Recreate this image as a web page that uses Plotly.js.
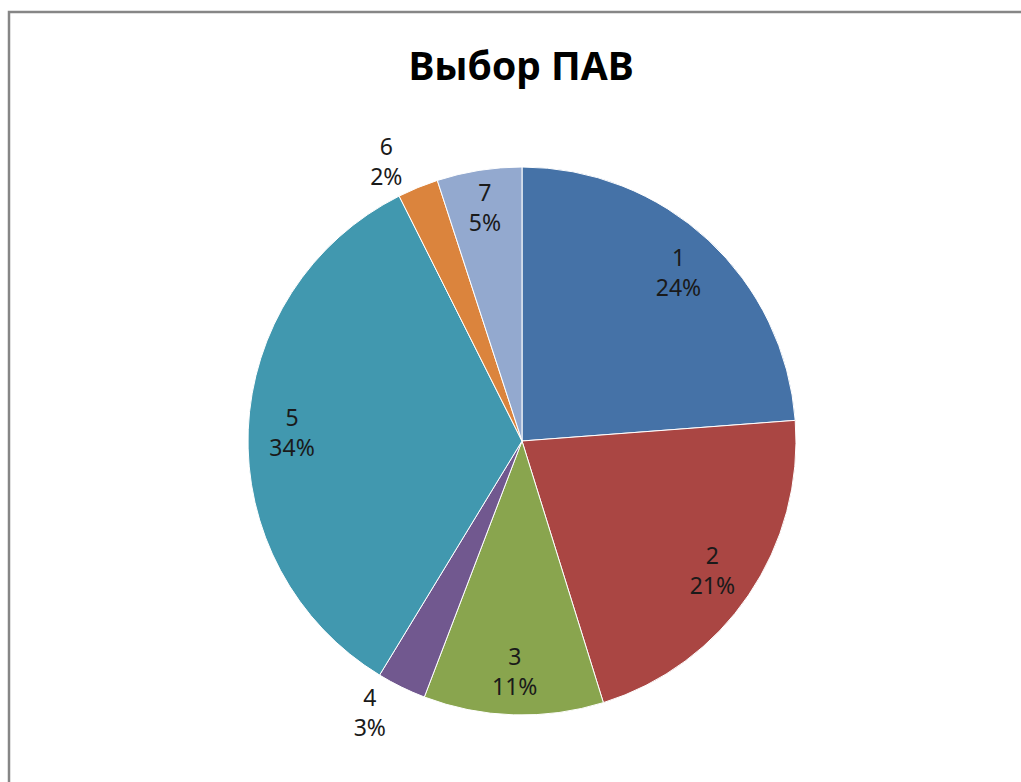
<!DOCTYPE html>
<html>
<head>
<meta charset="utf-8">
<script src="https://cdn.plot.ly/plotly-3.0.1.min.js"></script>
<style>html,body{margin:0;padding:0;background:#fff;}#chart{width:1021px;height:782px;}</style>
</head>
<body>
<div id="chart"></div>
<script>
const categories = ["1", "2", "3", "4", "5", "6", "7"];
const values = [23.8, 21.4, 10.6, 2.9, 33.9, 2.4, 5.0];
const colors = ["#4572A7", "#AA4643", "#89A54E", "#71588F", "#4198AF", "#DB843D", "#93A9CF"];
const positions = ["inside", "inside", "inside", "outside", "inside", "outside", "inside"];
const titleText = "Выбор ПАВ";

const W = 1021, H = 782;
const cx = 522, cy = 441, r = 274;
const domain = {x: [(cx - r) / W, (cx + r) / W], y: [(H - cy - r) / H, (H - cy + r) / H]};
const labelFont = {family: "Noto Sans, Open Sans, sans-serif", size: 23, color: "#1a1a1a"};

// the coloured pie itself
const pie = {
  type: "pie",
  labels: categories,
  values: values,
  sort: false,
  direction: "clockwise",
  rotation: 0,
  marker: {colors: colors, line: {color: "#ffffff", width: 1}},
  textinfo: "none",
  showlegend: false,
  hoverinfo: "skip",
  domain: domain
};

// transparent ring over the same pie, only used to place the data labels further out (as in Excel)
const labelRing = {
  type: "pie",
  labels: categories,
  values: values,
  sort: false,
  direction: "clockwise",
  rotation: 0,
  hole: 0.68,
  marker: {colors: categories.map(() => "rgba(0,0,0,0)"), line: {width: 0}},
  texttemplate: "%{label}<br>%{percent:.0%}",
  textposition: positions,
  textfont: labelFont,
  insidetextfont: labelFont,
  outsidetextfont: labelFont,
  insidetextorientation: "horizontal",
  showlegend: false,
  hoverinfo: "label+percent",
  domain: domain
};

const layout = {
  width: W, height: H,
  margin: {l: 0, r: 0, t: 0, b: 0},
  paper_bgcolor: "#ffffff",
  title: {
    text: titleText,
    font: {family: "Noto Sans, Open Sans, sans-serif", size: 39, color: "#000000", weight: "bold"},
    x: 521 / W, xanchor: "center", xref: "paper",
    y: 1 - 66 / H, yanchor: "middle", yref: "container"
  },
  shapes: [{
    type: "rect", xref: "paper", yref: "paper",
    x0: 9 / W, x1: 1.05, y0: -0.05, y1: 1 - 12 / H,
    line: {color: "#868686", width: 2.5}
  }]
};

Plotly.newPlot("chart", [pie, labelRing], layout, {displayModeBar: false, staticPlot: true});
</script>
</body>
</html>
